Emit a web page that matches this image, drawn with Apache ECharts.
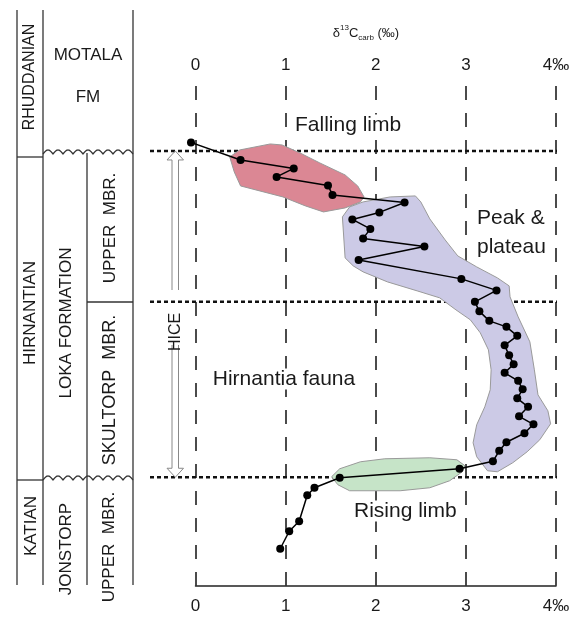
<!DOCTYPE html>
<html><head><meta charset="utf-8">
<script src="https://cdn.jsdelivr.net/npm/echarts@6/dist/echarts.min.js"></script>
<style>html,body{margin:0;padding:0;background:#fff}#c{width:578px;height:617px}</style>
</head><body><div id="c"></div>
<script>
// ---- data ----
const tickValues = [0, 1, 2, 3, 4];
const tickLabels = ['0', '1', '2', '3', '4‰'];
// δ13C carb (‰) values, top to bottom
const d13C = [-0.05,0.50,1.09,0.90,1.47,1.52,2.32,2.04,1.74,1.94,1.86,2.54,1.81,2.95,3.34,3.10,3.15,3.26,3.45,3.57,3.43,3.48,3.53,3.43,3.58,3.63,3.57,3.69,3.59,3.75,3.65,3.45,3.37,3.30,2.93,1.60,1.32,1.24,1.15,1.04,0.94];
// stratigraphic level (relative units)
const level = [88.7,85.2,83.5,81.8,80.1,78.2,76.7,74.7,73.3,71.4,69.5,67.9,65.2,61.4,59.1,56.8,54.9,53.0,51.8,50.0,48.1,46.1,44.3,42.6,41.0,39.3,37.5,35.8,33.9,32.3,30.5,28.7,27.0,24.9,23.4,21.6,19.6,18.1,12.9,10.9,7.4];
// boundary levels (dotted lines)
const boundaryLevels = [87.0, 56.8, 21.7];
// shaded zones [δ13C, level]
const fallingLimbZone = [[0.38,85.8],[0.49,87.2],[0.83,88.4],[0.96,88.2],[1.16,86.6],[1.38,84.6],[1.66,82.2],[1.80,80.0],[1.87,77.8],[1.83,76.8],[1.66,75.6],[1.42,74.8],[1.22,76.0],[0.97,77.8],[0.50,80.0],[0.43,82.8]];
const peakZone = [[1.63,73.8],[1.71,75.8],[1.86,76.8],[2.16,77.8],[2.44,78.0],[2.50,76.8],[2.60,73.4],[2.77,69.2],[2.91,66.0],[3.12,63.8],[3.35,61.6],[3.48,60.0],[3.49,57.8],[3.58,53.8],[3.71,48.8],[3.76,43.2],[3.80,38.2],[3.91,35.0],[3.94,32.4],[3.82,29.2],[3.68,26.8],[3.52,24.6],[3.35,22.8],[3.24,23.0],[3.12,25.8],[3.08,28.6],[3.12,32.2],[3.21,35.8],[3.27,39.2],[3.28,43.2],[3.25,47.2],[3.16,50.6],[3.05,53.2],[2.89,55.2],[2.71,57.6],[2.46,59.0],[2.13,60.8],[1.86,62.8],[1.75,64.0],[1.66,65.6]];
const risingZone = [[1.51,21.8],[1.60,23.4],[1.83,24.8],[2.10,25.4],[2.60,25.6],[2.90,25.2],[2.99,24.0],[2.96,22.8],[2.82,21.0],[2.60,19.6],[2.27,19.0],[1.71,19.0],[1.58,20.2]];

const FONT = '"Liberation Sans", Arial, sans-serif';
const INK = '#1a1a1a';

function zoneSeries(poly, color, name) {
  return {
    type: 'custom', name: name, coordinateSystem: 'cartesian2d', xAxisIndex: 0, yAxisIndex: 0,
    clip: false, silent: true, z: 1, data: poly,
    renderItem: function (params, api) {
      if (params.dataIndex !== 0) return null;
      return { type: 'polygon', shape: { points: poly.map(p => api.coord(p)) },
        style: { fill: color, stroke: '#9a9a9a', lineWidth: 1 } };
    }
  };
}

const xAxisCommon = {
  type: 'value', min: 0, max: 4, interval: 1,
  axisTick: { show: false },
  axisLabel: { fontSize: 17, color: INK, fontFamily: FONT, margin: 12,
    formatter: v => tickLabels[tickValues.indexOf(v)] },
  splitLine: { show: false }
};

const option = {
  animation: false,
  backgroundColor: '#fff',
  grid: { left: 195.5, right: 22, top: 86, bottom: 31.3 },
  xAxis: [
    Object.assign({}, xAxisCommon, { position: 'top', axisLine: { show: false },
      splitLine: { show: true, lineStyle: { color: '#111', width: 1.5, type: [14, 13], dashOffset: 0 } } }),
    Object.assign({}, xAxisCommon, { position: 'bottom', axisLine: { show: true, lineStyle: { color: '#222', width: 1.5 } } })
  ],
  yAxis: { type: 'value', min: 0, max: 100, show: false },
  series: [
    zoneSeries(fallingLimbZone, '#db8794', 'Falling limb'),
    zoneSeries(peakZone, '#cccae6', 'Peak & plateau'),
    zoneSeries(risingZone, '#c6e4c8', 'Rising limb'),
    {
      type: 'line', xAxisIndex: 0, yAxisIndex: 0, clip: false, z: 3,
      data: d13C.map((v, i) => [v, level[i]]),
      symbol: 'circle', symbolSize: 8,
      itemStyle: { color: '#000' },
      lineStyle: { color: '#000', width: 1.5 }
    }
  ]
};

const chart = echarts.init(document.getElementById('c'));
chart.setOption(option);

const px = (x, y) => chart.convertToPixel({ gridIndex: 0 }, [x, y]);
const g = [];
function line(x1, y1, x2, y2, st) {
  g.push({ type: 'line', shape: { x1, y1, x2, y2 }, style: Object.assign({ stroke: '#333', lineWidth: 1.3 }, st || {}) });
}
function wave(x0, x1, y0, amp, period) {
  const pts = [];
  for (let x = x0; x <= x1 + 0.01; x += 0.5) pts.push([x, y0 - amp * Math.abs(Math.sin(Math.PI * (x - x0) / period))]);
  g.push({ type: 'polyline', shape: { points: pts }, style: { stroke: '#333', lineWidth: 1.3, fill: null } });
}
function vtext(t, x, y, size) {
  g.push({ type: 'text', x: x, y: y, rotation: Math.PI / 2, z: 20,
    style: { text: t, x: 0, y: 0, align: 'center', verticalAlign: 'middle', font: size + 'px ' + FONT, fill: INK } });
}
function htext(t, x, y, size, align, bg) {
  const st = { text: t, align: align || 'left', verticalAlign: 'middle', font: size + 'px ' + FONT, fill: INK };
  if (bg) { st.backgroundColor = '#fff'; st.padding = [0, 2]; }
  g.push({ type: 'text', x: x, y: y, z: 20, style: st });
}

// stratigraphic column
line(17, 10, 17, 585); line(43, 10, 43, 585); line(133, 10, 133, 585); line(87, 153, 87, 585);
line(17, 157, 43, 157); line(17, 480, 43, 480); line(87, 302, 133, 302);
wave(43, 133, 154, 4, 10);
wave(43, 133, 480, 4, 10);
vtext('RHUDDANIAN', 30, 77, 16);
htext('MOTALA', 88, 55, 17, 'center');
htext('FM', 88, 97, 17, 'center');
vtext('HIRNANTIAN', 30, 313, 17);
vtext('LOKA FORMATION', 66, 323, 17);
vtext('UPPER  MBR.', 110, 228, 17);
vtext('SKULTORP  MBR.', 110, 390, 18);
vtext('KATIAN', 31, 526, 17);
vtext('JONSTORP', 66, 549, 17);
vtext('UPPER  MBR.', 109, 547, 17);

// dotted boundaries
const xr = px(4, 0)[0] + 1;
boundaryLevels.forEach(h => {
  const y = px(0, h)[1];
  line(150, y, xr, y, { stroke: '#111', lineWidth: 2.5, lineDash: [4, 3] });
});

// HICE double arrow
const yTop = px(0, boundaryLevels[0])[1], yBot = px(0, boundaryLevels[2])[1];
const arrowStyle = { stroke: '#888', lineWidth: 1, fill: null };
g.push({ type: 'polyline', shape: { points: [[172, 290], [172, yTop + 9], [167, yTop + 9], [175.3, yTop], [183.5, yTop + 9], [178.5, yTop + 9], [178.5, 290]] }, style: arrowStyle });
g.push({ type: 'polyline', shape: { points: [[172, 345], [172, yBot - 9], [167, yBot - 9], [175.3, yBot], [183.5, yBot - 9], [178.5, yBot - 9], [178.5, 345]] }, style: arrowStyle });
vtext('HICE', 176, 332, 16);

// annotations
htext('Falling limb', 293, 125, 21, 'left', true);
htext('Peak &', 477, 218, 21);
htext('plateau', 477, 247, 21);
htext('Hirnantia fauna', 284, 379, 21, 'center', true);
htext('Rising limb', 352, 511, 21, 'left', true);

// axis title
g.push({ type: 'text', x: 366, y: 33,
  style: { text: '{a|δ}{s|13}{a|C}{b|carb}{a| (‰)}', align: 'center', verticalAlign: 'middle',
    rich: {
      a: { fontSize: 13, fontFamily: FONT, fill: INK, lineHeight: 18 },
      s: { fontSize: 8, fontFamily: FONT, fill: INK, lineHeight: 9, verticalAlign: 'top' },
      b: { fontSize: 8, fontFamily: FONT, fill: INK, lineHeight: 9, verticalAlign: 'bottom' }
    } } });

chart.setOption({ graphic: { elements: g } });
</script></body></html>
